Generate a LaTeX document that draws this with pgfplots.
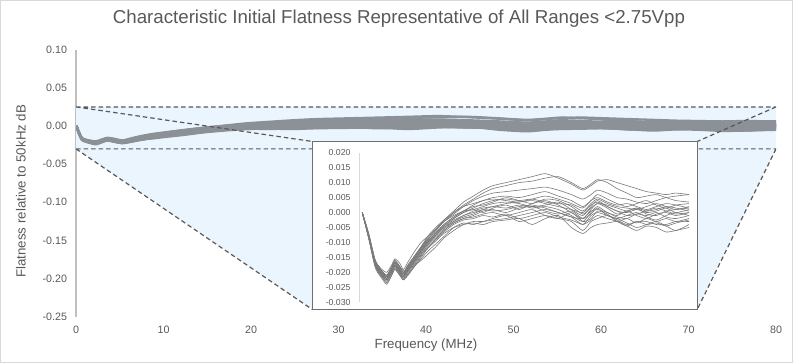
\documentclass[border=0pt]{standalone}
\usepackage{fontspec}
\setmainfont{Liberation Sans}
\usepackage{pgfplots}
\usepackage{pgfplotstable}
\pgfplotsset{compat=1.18}
\definecolor{txt}{HTML}{595959}
\definecolor{fillb}{HTML}{EBF5FD}
\definecolor{band}{HTML}{8C9197}
\definecolor{thincol}{HTML}{7A7A7A}
\definecolor{frame}{HTML}{D9D9D9}
\definecolor{yline}{HTML}{BFBFBF}
\definecolor{dashc}{HTML}{595959}
\definecolor{insetframe}{HTML}{6F6F6F}
% flatness in units of 0.001 dB; u = inset position, f = frequency in MHz
\pgfplotstableread{
u f c1 c2 c3 c4 c5 c6 c7 c8 c9 c10 c11 c12 c13 c14 c15 c16 c17 c18
0 0.05 0 0 0 0 0 0 0 0 0 0 0 0 0 0 0 0 0 0
2 0.3 -7 -8 -7.5 -8 -8.5 -8 -8 -8.5 -7.5 -8 -8.5 -9 -8 -8.5 -8 -7.5 -8 -8.5
4 0.7 -16 -17 -16.5 -17 -17.5 -17 -16.5 -17.5 -16.5 -17 -18 -18.5 -17 -18 -17.5 -16 -17 -17.5
6 1.5 -19 -20 -19.5 -20.5 -21 -20 -19.5 -21 -20 -20.5 -21.5 -22 -20.5 -21.5 -21 -19.5 -20.5 -21
7.5 2.3 -20 -21 -21 -22 -22.5 -21.5 -21 -22.5 -21.5 -22 -23 -24 -22 -23.5 -22.5 -21 -21.5 -22.5
9 3.0 -17.5 -18.5 -18 -19 -19.5 -19 -18.5 -20 -19 -19.5 -20.5 -21 -19.5 -21 -20 -18.5 -19 -20
10 3.6 -15.5 -16.5 -16 -17 -17.5 -17.5 -16.5 -18 -17 -17.5 -18.5 -19 -17.5 -19 -18 -16 -17 -18
11.5 4.5 -17 -18 -18.5 -19 -19.5 -19.5 -18.5 -20 -19 -19.5 -20.5 -21 -20 -21 -20.5 -18 -19 -20
12.6 5.3 -19 -20 -20 -21 -21 -20.5 -20 -21.5 -20.5 -21 -22 -22.5 -21.5 -22.5 -22 -19.5 -20.5 -21.5
14 6.2 -16.5 -17.5 -18 -19 -18.5 -18 -17.5 -19.5 -18.5 -19 -20 -21 -19.5 -20.5 -20.5 -19 -18.5 -19
16 7.5 -13 -14.5 -15 -16 -15.5 -15 -14.5 -16.5 -15.5 -16 -17 -18 -16.5 -17.5 -18 -17.5 -15 -16
18 9.0 -10 -11.5 -12 -13 -12.5 -12 -11.5 -13.5 -12.5 -13 -14 -15 -14 -14.5 -15.5 -16 -11.5 -13
20 10.5 -8 -9 -9 -10 -9.5 -9 -8.5 -10.5 -9.5 -10.5 -11 -12 -11.5 -12 -13 -14 -8 -10
22.5 12.5 -5.5 -6 -6 -7 -7 -6.5 -5.5 -7.5 -7 -8 -8.5 -9 -9 -9.5 -10.5 -11.5 -5 -7.5
25 14.5 -2.5 -3 -3 -4 -4.5 -4 -3 -5 -4.5 -5.5 -6 -6 -6.5 -7 -8 -8.5 -2.5 -5
28 17.0 0.5 0 -0.5 -1.5 -2 -1.5 -1 -2.5 -2 -3 -3.5 -3.5 -4 -5 -5 -6 0 -3
31 19.5 3.5 2.5 2 0.5 0 0.5 0.5 -1 0 -1 -2 -2 -2.5 -4 -3.5 -4 2 -1.5
34 22.1 5.5 4.5 4 2.5 1.5 2 1 0.5 1 0 -1 -1.5 -2 -3.5 -4 -3 3 -0.5
37 24.8 7.5 6.5 5.5 4 3 2.5 2 1.5 0 1 0.5 -0.5 -1 -4 -3 -3 4 1
40 27.4 9 8 6.5 5 4 3.5 3 2 1.5 2 1 0 -1.5 -3 -2 -2.5 4.5 0.5
44 30.9 10 9 7 5.5 4.5 5 3.5 3 2.5 1.5 0 -1 -0.5 -2.5 -1 -2 4 1
48 34.4 11 10 7.5 5 4 4 3 3.5 1 2.5 1.5 0 -2 -2 -3 -1 3.5 2
52 37.9 12 10.5 8 6 4.5 3 2 4 3 1.5 2 1 -1 -4 -2 0 4.5 2.5
56 41.4 13 11.5 8.5 7 3.5 4.5 2.5 3 4 2 0.5 -1 0 -2 -1 1 5.5 1.5
60 44.9 11.5 12 7.5 5.5 3 4 3.5 2 2.5 1 -0.5 -2 -1.5 -1 -2 0 4.5 0
64 48.4 9.5 10 6 4 2.5 2 1 1 0 -1 0.5 0 -2.5 -5 -3 -1.5 3 -1.5
67.5 51.5 7.5 8 4.5 2 0.5 -0.5 -1 0 -2 -3 -2 -3 -4 -7 -6 -4 1.5 -2
70 53.7 9 9.5 6 4 3 1.5 2 2.5 1 0 -0.5 -2 -2.5 -5 -3 -1 4 0.5
72 55.4 10.5 11 7.5 6 4.5 3 4 3.5 3 2 1.5 0.5 -1 -4 -2 0 5 1
75 58.1 11 10 6.5 4.5 3 2.5 2 2 1.5 0 -1 -0.5 -2 -3.5 -1 -1 3.5 0
78 60.7 10 8 5 3 2 1.5 0.5 0.5 -0.5 -1 -2 -3 -3 -3 -2.5 -2 2.5 -1.5
81 63.3 9 6.5 4.5 2 1.5 0.5 0 -1 0.5 0.5 -1 -2 -4.5 -4.5 -4 -3.5 3 -2
84 66.0 8 5 3.5 3 1 1.5 1 -0.5 1.5 -1 0 -3.5 -3 -6 -3 -5 2 -0.5
87 68.6 7 5.5 3 4 2 0.5 0 0.5 -0.5 -2 -1.5 -2 -4 -4.5 -3 -4 1 -1
90 71.2 6.5 6 4 2.5 3 1 0.5 1.5 -1 -0.5 -2.5 -3 -3.5 -5 -4 -3 2 0
93 73.9 6 5 5 1.5 2 2 1.5 0.5 0.5 0 -1 -2 -4.5 -6.5 -4 -4.5 3 -1.5
96 76.5 6.5 4 5.5 2.5 1 1.5 0 -0.5 1 -1 0 -3 -3.5 -6 -3 -6 2.5 -2
100 80 6 3.5 6 3 2 0.5 1 0 1.5 0 -1 -2 -2.5 -5 -3 -4 1.5 -1
}\curves
\begin{document}
\begin{tikzpicture}
\path[use as bounding box] (0,0) rectangle (793pt,363pt);
\draw[frame, line width=1pt] (0.5pt,0.5pt) rectangle (792.5pt,362.5pt);
\node[anchor=base, font=\fontsize{18.7}{22}\selectfont, text=txt] at (399pt,339pt)
  {Characteristic Initial Flatness Representative of All Ranges <2.75Vpp};
\begin{axis}[
  at={(76pt,46.3pt)}, anchor=south west, scale only axis,
  width=700pt, height=267pt,
  xmin=0, xmax=80, ymin=-250, ymax=100,
  xtick={0,10,20,30,40,50,60,70,80},
  xticklabels={0,10,20,30,40,50,60,70,80},
  ytick={-250,-200,-150,-100,-50,0,50,100},
  yticklabels={-0.25,-0.20,-0.15,-0.10,-0.05,0.00,0.05,0.10},
  axis x line*=bottom, axis y line*=left,
  x axis line style={draw=none},
  y axis line style={draw=yline, line width=1.2pt},
  major tick length=0pt, tick style={draw=none},
  ticklabel style={font=\fontsize{10.7}{12}\selectfont, text=txt},
  yticklabel style={xshift=-5.5pt},
  xticklabel style={yshift=-6pt},
  xlabel={Frequency (MHz)},
  ylabel={Flatness relative to 50kHz dB},
  label style={font=\fontsize{13.3}{15}\selectfont, text=txt},
  xlabel style={at={(axis description cs:0.5,0)}, anchor=base, yshift=-31.8pt},
  ylabel style={at={(axis description cs:-0.0721,0.47)}, anchor=base},
]
\fill[fillb] (axis cs:0,25) -- (axis cs:80,25) -- (axis cs:80,-30) -- (axis cs:71,-240.5)
  -- (axis cs:27,-240.5) -- (axis cs:0,-30) -- cycle;
\pgfplotsinvokeforeach{1,...,18}{
  \addplot[band, line width=2.3pt, smooth, tension=0.4] table[x=f, y=c#1]{\curves};
}
\draw[dashc, line width=1.2pt, dash pattern=on 4.5pt off 3pt]
  (axis cs:0,25) -- (axis cs:80,25)
  (axis cs:0,-30) -- (axis cs:80,-30)
  (axis cs:0,25) -- (axis cs:27,-20.3)
  (axis cs:0,-30) -- (axis cs:27,-240.5)
  (axis cs:80,25) -- (axis cs:71,-20.3)
  (axis cs:80,-30) -- (axis cs:71,-240.5);
\filldraw[fill=white, draw=insetframe, line width=1pt] (axis cs:27,-20.3) rectangle (axis cs:71,-240.5);
\end{axis}
\begin{axis}[
  at={(359pt,60.7pt)}, anchor=south west, scale only axis,
  width=330pt, height=149.6pt,
  xmin=-1, xmax=100, ymin=-30, ymax=20,
  xtick=\empty,
  ytick={-30,-25,-20,-15,-10,-5,0,5,10,15,20},
  yticklabels={-0.030,-0.025,-0.020,-0.015,-0.010,-0.005,0.000,0.005,0.010,0.015,0.020},
  axis x line=none, axis y line*=left,
  y axis line style={draw=frame, line width=1pt},
  major tick length=0pt, tick style={draw=none},
  ticklabel style={font=\fontsize{8.7}{10}\selectfont, text=txt},
  yticklabel style={xshift=-5pt},
  clip=false,
]
\pgfplotsinvokeforeach{1,...,18}{
  \addplot[thincol, line width=0.6pt, smooth, tension=0.4] table[x=u, y=c#1]{\curves};
}
\end{axis}
\end{tikzpicture}
\end{document}
